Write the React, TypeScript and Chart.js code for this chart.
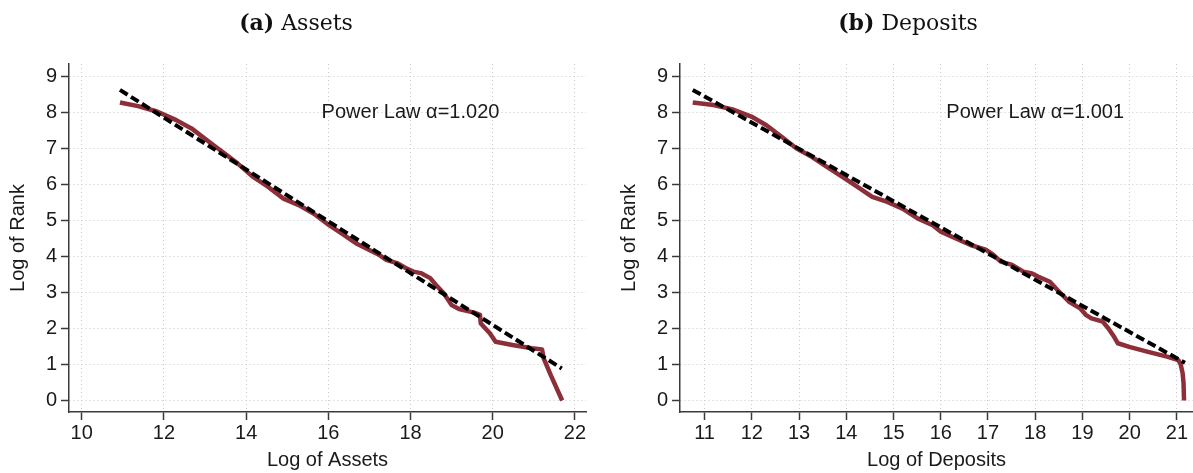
import React, { useEffect, useRef } from "react";
import { Chart, registerables } from "chart.js";

Chart.register(...registerables);

// ---------- data ----------
const assetsX = [10.93, 11.37, 11.83, 12.3, 12.67, 13.04, 13.42, 13.79, 14.16, 14.53, 14.91, 15.28, 15.65, 16.02, 16.35, 16.67, 17.23, 17.41, 17.69, 17.88, 18.07, 18.25, 18.48, 18.62, 18.81, 19.0, 19.18, 19.55, 19.69, 19.71, 19.93, 20.07, 20.48, 20.95, 21.2, 21.24, 21.41, 21.69];
const assetsY = [8.28, 8.18, 8.03, 7.79, 7.56, 7.24, 6.91, 6.59, 6.22, 5.94, 5.61, 5.43, 5.19, 4.87, 4.62, 4.37, 4.05, 3.91, 3.81, 3.68, 3.58, 3.54, 3.4, 3.21, 2.98, 2.65, 2.54, 2.44, 2.38, 2.14, 1.87, 1.63, 1.54, 1.45, 1.42, 1.17, 0.71, 0.0];
const assetsFitX = [10.93, 21.68];
const assetsFitY = [8.63, 0.89];

const depositsX = [10.75, 11.19, 11.59, 11.99, 12.31, 12.63, 12.95, 13.27, 13.59, 13.91, 14.23, 14.55, 14.87, 15.19, 15.51, 15.83, 15.99, 16.31, 16.63, 16.95, 17.11, 17.27, 17.51, 17.75, 17.91, 18.07, 18.31, 18.47, 18.71, 18.95, 19.07, 19.19, 19.43, 19.55, 19.67, 19.75, 19.99, 20.39, 20.79, 21.03, 21.08, 21.12, 21.14, 21.15];
const depositsY = [8.28, 8.21, 8.09, 7.89, 7.65, 7.33, 7.0, 6.77, 6.49, 6.22, 5.94, 5.66, 5.52, 5.33, 5.06, 4.87, 4.7, 4.51, 4.32, 4.19, 4.05, 3.86, 3.77, 3.58, 3.54, 3.44, 3.3, 3.07, 2.75, 2.56, 2.38, 2.28, 2.19, 2.0, 1.77, 1.59, 1.49, 1.35, 1.22, 1.12, 1.0, 0.76, 0.48, 0.0];
const depositsFitX = [10.75, 21.17];
const depositsFitY = [8.63, 1.05];

const assetsTicks = [10, 12, 14, 16, 18, 20, 22];
const depositsTicks = [11, 12, 13, 14, 15, 16, 17, 18, 19, 20, 21];
const rankTicks = [0, 1, 2, 3, 4, 5, 6, 7, 8, 9];

const assetsLabel = "Power Law \u03b1=1.020";
const depositsLabel = "Power Law \u03b1=1.001";
const labelPos = { x: 18, y: 8 };

// ---------- styles ----------
const RED = "#8c2f39";
const GRID = "#c8c8c8";
const AXIS = "#3a3a3a";
const TEXT = "#1a1a1a";
const SANS = "'Liberation Sans', Arial, sans-serif";

type PanelProps = {
  left: number;
  width: number;
  xs: number[];
  ys: number[];
  fitX: number[];
  fitY: number[];
  xTicks: number[];
  xMin: number;
  xMax: number;
  xTitle: string;
  note: string;
  padRight: number;
};

function toPts(xs: number[], ys: number[]) {
  return xs.map((x, i) => ({ x, y: ys[i] }));
}

function Panel(p: PanelProps) {
  const ref = useRef<HTMLCanvasElement | null>(null);
  useEffect(() => {
    if (!ref.current) return;
    const notePlugin = {
      id: "note",
      afterDatasetsDraw(chart: any) {
        const { ctx, scales } = chart;
        ctx.save();
        ctx.font = `20px ${SANS}`;
        ctx.fillStyle = TEXT;
        ctx.textAlign = "center";
        ctx.textBaseline = "middle";
        ctx.fillText(p.note, scales.x.getPixelForValue(labelPos.x), scales.y.getPixelForValue(labelPos.y));
        ctx.restore();
      },
    };
    const chart = new Chart(ref.current, {
      type: "line",
      data: {
        datasets: [
          {
            data: toPts(p.fitX, p.fitY),
            borderColor: "#000",
            borderWidth: 4,
            borderDash: [9, 4],
            pointRadius: 0,
            tension: 0,
            fill: false,
          },
          {
            data: toPts(p.xs, p.ys),
            borderColor: RED,
            borderWidth: 4.5,
            pointRadius: 0,
            tension: 0,
            borderJoinStyle: "round",
            fill: false,
          },
        ],
      },
      options: {
        animation: false,
        responsive: false,
        devicePixelRatio: 1,
        layout: { padding: { left: 0, top: 64, right: p.padRight, bottom: 0 } },
        plugins: { legend: { display: false }, tooltip: { enabled: false } },
        scales: {
          x: {
            type: "linear",
            min: p.xMin,
            max: p.xMax,
            afterBuildTicks: (s: any) => {
              s.ticks = p.xTicks.map((v) => ({ value: v }));
            },
            afterFit: (s: any) => {
              s.height = 61;
            },
            grid: {
              color: GRID,
              lineWidth: 1,
              tickLength: 8,
              tickColor: AXIS,
              tickWidth: 1.5,
              tickBorderDash: [],
            },
            border: { display: true, color: AXIS, width: 1.5, dash: [1, 3] },
            ticks: { color: TEXT, font: { family: SANS, size: 20 }, padding: 1, maxRotation: 0, autoSkip: false },
            title: { display: true, text: p.xTitle, color: TEXT, font: { family: SANS, size: 20 }, padding: { top: 0, bottom: 1 } },
          },
          y: {
            type: "linear",
            min: -0.32,
            max: 9.35,
            afterBuildTicks: (s: any) => {
              s.ticks = rankTicks.map((v) => ({ value: v }));
            },
            afterFit: (s: any) => {
              s.width = 69;
            },
            grid: {
              color: GRID,
              lineWidth: 1,
              tickLength: 8,
              tickColor: AXIS,
              tickWidth: 1.5,
              tickBorderDash: [],
            },
            border: { display: true, color: AXIS, width: 1.5, dash: [1, 3] },
            ticks: { color: TEXT, font: { family: SANS, size: 20 }, padding: 4, autoSkip: false },
            title: { display: true, text: "Log of Rank", color: TEXT, font: { family: SANS, size: 20 }, padding: { top: 6, bottom: 0 } },
          },
        },
      },
      plugins: [notePlugin],
    } as any);
    return () => chart.destroy();
  }, []);
  return (
    <canvas
      ref={ref}
      width={p.width}
      height={473}
      style={{ position: "absolute", left: p.left, top: 0, width: p.width, height: 473 }}
    />
  );
}

function Title({ center, tag, text }: { center: number; tag: string; text: string }) {
  return (
    <div
      style={{
        position: "absolute",
        left: center - 150,
        width: 300,
        top: 8,
        textAlign: "center",
        fontFamily: "'DejaVu Serif', serif",
        fontSize: 22,
        lineHeight: "28px",
        color: "#111",
        whiteSpace: "nowrap",
      }}
    >
      <b>{tag}</b> {text}
    </div>
  );
}

export default function App() {
  return (
    <div style={{ position: "absolute", left: 0, top: 0, width: 1193, height: 473, background: "#fff", overflow: "hidden" }}>
      <Panel
        left={0}
        width={596}
        xs={assetsX}
        ys={assetsY}
        fitX={assetsFitX}
        fitY={assetsFitY}
        xTicks={assetsTicks}
        xMin={9.69}
        xMax={22.27}
        xTitle="Log of Assets"
        note={assetsLabel}
        padRight={10}
      />
      <Panel
        left={611}
        width={582}
        xs={depositsX}
        ys={depositsY}
        fitX={depositsFitX}
        fitY={depositsFitY}
        xTicks={depositsTicks}
        xMin={10.48}
        xMax={21.34}
        xTitle="Log of Deposits"
        note={depositsLabel}
        padRight={0}
      />
      <Title center={296} tag="(a)" text="Assets" />
      <Title center={908} tag="(b)" text="Deposits" />
    </div>
  );
}
